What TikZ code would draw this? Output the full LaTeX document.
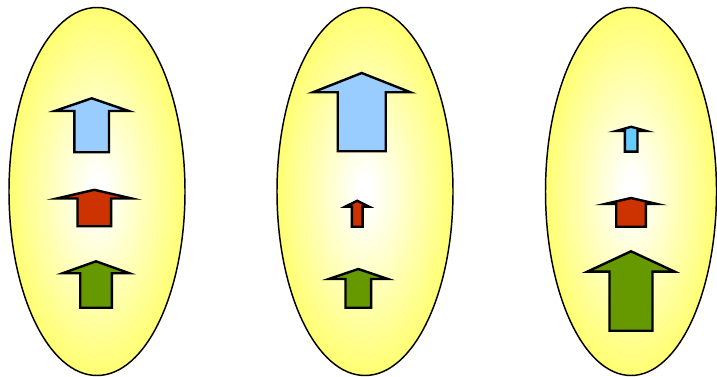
\documentclass[tikz,border=0pt]{standalone}
\usetikzlibrary{shadings}
\definecolor{lemon}{HTML}{FFFF66}
\definecolor{skyblue}{HTML}{99CCFF}
\definecolor{cyanblue}{HTML}{66CCFF}
\definecolor{rust}{HTML}{CC3300}
\definecolor{olive}{HTML}{669900}
\pgfdeclareradialshading{glow}{\pgfpoint{0bp}{0bp}}{%
  color(0bp)=(white); color(2bp)=(white); color(27bp)=(lemon);
  color(50bp)=(lemon); color(100bp)=(lemon)}
\tikzset{
  pod/.style={draw=black, line width=1.1pt, shading=glow},
  blockarrow/.style={draw=black, line width=1.8pt, line join=miter}
}
% block arrow pointing up:
% #1 colour, #2 centre x, #3 tip y, #4 head half-width, #5 head base y,
% #6 shaft half-width, #7 bottom y
\newcommand{\uparrowblock}[7]{%
  \filldraw[blockarrow, fill=#1]
    (#2,#3) -- (#2+#4,#5) -- (#2+#6,#5) -- (#2+#6,#7)
    -- (#2-#6,#7) -- (#2-#6,#5) -- (#2-#4,#5) -- cycle;}
\begin{document}
\begin{tikzpicture}[x=0.75pt, y=-0.75pt]
  \useasboundingbox (0,0) rectangle (717,377);
  % three pods
  \shade[pod] (97,191.5) ellipse [x radius=88, y radius=184];
  \shade[pod] (365,191.5) ellipse [x radius=88, y radius=184];
  \shade[pod] (631,191.5) ellipse [x radius=85.5, y radius=184];
  % first pod
  \uparrowblock{skyblue}{91.7}{98.3}{37}{111}{17.3}{152.3}
  \uparrowblock{rust}{94.3}{189.8}{37.5}{198.5}{16.8}{226.3}
  \uparrowblock{olive}{96}{261.3}{33.5}{273.3}{15.8}{307.8}
  % second pod
  \uparrowblock{skyblue}{361.7}{73}{48.8}{92.3}{24}{151.3}
  \uparrowblock{rust}{357.2}{200.8}{12}{206.7}{5.4}{226.8}
  \uparrowblock{olive}{358.3}{269}{29.5}{279}{12.8}{307.8}
  % third pod
  \uparrowblock{cyanblue}{631.2}{126.8}{15}{131}{6.3}{151.6}
  \uparrowblock{rust}{631}{198}{26}{204}{14.8}{226.8}
  \uparrowblock{olive}{631}{251.3}{43.8}{271.7}{21.5}{330.8}
\end{tikzpicture}
\end{document}
